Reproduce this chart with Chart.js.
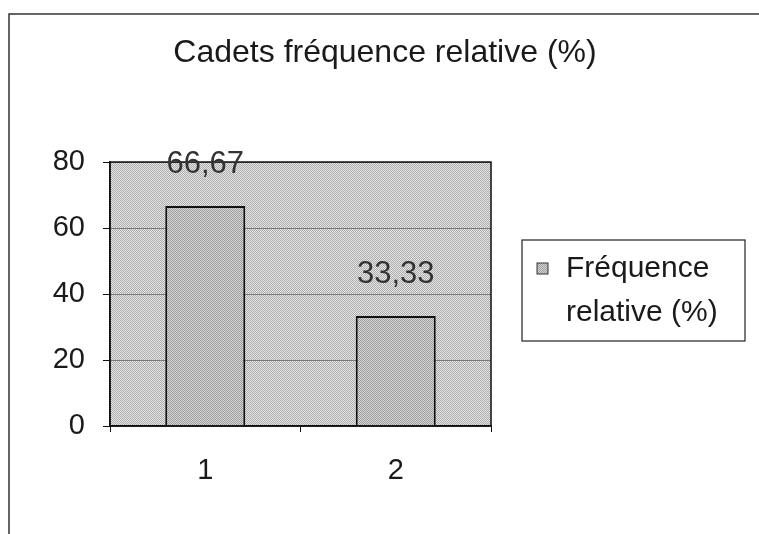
<!DOCTYPE html>
<html>
<head>
<meta charset="utf-8">
<script src="https://cdn.jsdelivr.net/npm/chart.js@4/dist/chart.umd.min.js"></script>
<style>
  html, body { margin: 0; padding: 0; background: #fff; }
  #wrap { width: 759px; height: 534px; position: relative; }
</style>
</head>
<body>
<div id="wrap"><canvas id="chart" width="759" height="534"></canvas></div>
<script>
// data
const categories = ['1', '2'];
const frequences = [66.67, 33.33];
const yTicks = [0, 20, 40, 60, 80];
const chartTitle = 'Cadets fréquence relative (%)';
const seriesLabel = ['Fréquence', 'relative (%)'];

const FONT = '"Liberation Sans", Arial, sans-serif';

// stippled grey fill like the scanned print
function makePattern(light, dark) {
    const c = document.createElement('canvas');
    c.width = 2; c.height = 2;
    const g = c.getContext('2d');
    g.fillStyle = light; g.fillRect(0, 0, 2, 2);
    g.fillStyle = dark; g.fillRect(0, 0, 1, 1); g.fillRect(1, 1, 1, 1);
    return g.createPattern(c, 'repeat');
}
const ctx = document.getElementById('chart').getContext('2d');
const plotFill = makePattern('#e2e2e2', '#b0b0b0');
const barFill = makePattern('#d4d4d4', '#9e9e9e');

const fmt = v => v.toFixed(2).replace('.', ',');

const decorPlugin = {
    id: 'decor',
    beforeDraw(chart) {
        const { ctx, chartArea: a } = chart;
        ctx.save();
        ctx.fillStyle = plotFill;
        ctx.fillRect(a.left, a.top, a.right - a.left, a.bottom - a.top);
        ctx.restore();
    },
    afterDraw(chart) {
        const { ctx, chartArea: a } = chart;
        ctx.save();
        // plot frame
        ctx.strokeStyle = '#111';
        ctx.lineWidth = 1.5;
        ctx.strokeRect(a.left, a.top, a.right - a.left, a.bottom - a.top);

        // outer chart frame (top + left edge)
        ctx.lineWidth = 1.5;
        ctx.strokeStyle = '#333';
        ctx.beginPath();
        ctx.moveTo(9, 534); ctx.lineTo(9, 14); ctx.lineTo(759, 14);
        ctx.stroke();

        // title
        ctx.fillStyle = '#1a1a1a';
        ctx.font = '32px ' + FONT;
        ctx.textAlign = 'center';
        ctx.textBaseline = 'middle';
        ctx.fillText(chartTitle, 385, 53);

        // value labels above the bars
        const meta = chart.getDatasetMeta(0);
        ctx.font = '31px ' + FONT;
        ctx.fillStyle = '#333';
        meta.data.forEach((bar, i) => {
            ctx.fillText(fmt(frequences[i]), bar.x, bar.y - 42);
        });

        // legend box
        ctx.strokeStyle = '#222';
        ctx.lineWidth = 1.2;
        ctx.strokeRect(522, 240, 223, 101);
        ctx.fillStyle = barFill;
        ctx.fillRect(537, 263, 11, 11);
        ctx.strokeStyle = '#333';
        ctx.lineWidth = 1;
        ctx.strokeRect(537, 263, 11, 11);
        ctx.fillStyle = '#1a1a1a';
        ctx.font = '30px ' + FONT;
        ctx.textAlign = 'left';
        ctx.fillText(seriesLabel[0], 566, 269);
        ctx.fillText(seriesLabel[1], 566, 313);
        ctx.restore();
    }
};

new Chart(ctx, {
    type: 'bar',
    data: {
        labels: categories,
        datasets: [{
            label: seriesLabel.join(' '),
            data: frequences,
            backgroundColor: barFill,
            borderColor: '#111',
            borderWidth: 2,
            barPercentage: 0.42,
            categoryPercentage: 1
        }]
    },
    options: {
        responsive: false,
        animation: false,
        layout: { padding: { top: 162, left: 30, right: 268, bottom: 40 } },
        plugins: {
            legend: { display: false },
            title: { display: false },
            tooltip: { enabled: false }
        },
        scales: {
            x: {
                afterFit: s => { s.height = 68; },
                grid: { drawOnChartArea: false, drawTicks: true, tickLength: 6, color: '#111', offset: true },
                border: { color: '#111', width: 1.5 },
                ticks: { color: '#1a1a1a', font: { family: FONT, size: 29 }, padding: 22 }
            },
            y: {
                min: 0,
                max: 80,
                afterFit: s => { s.width = 80; },
                afterBuildTicks: s => { s.ticks = yTicks.map(v => ({ value: v })); },
                grid: { color: '#7a7a7a', tickColor: '#111', tickLength: 7, lineWidth: 1 },
                border: { color: '#111', width: 1.5 },
                ticks: { color: '#1a1a1a', font: { family: FONT, size: 29 }, padding: 18 }
            }
        }
    },
    plugins: [decorPlugin]
});
</script>
</body>
</html>
